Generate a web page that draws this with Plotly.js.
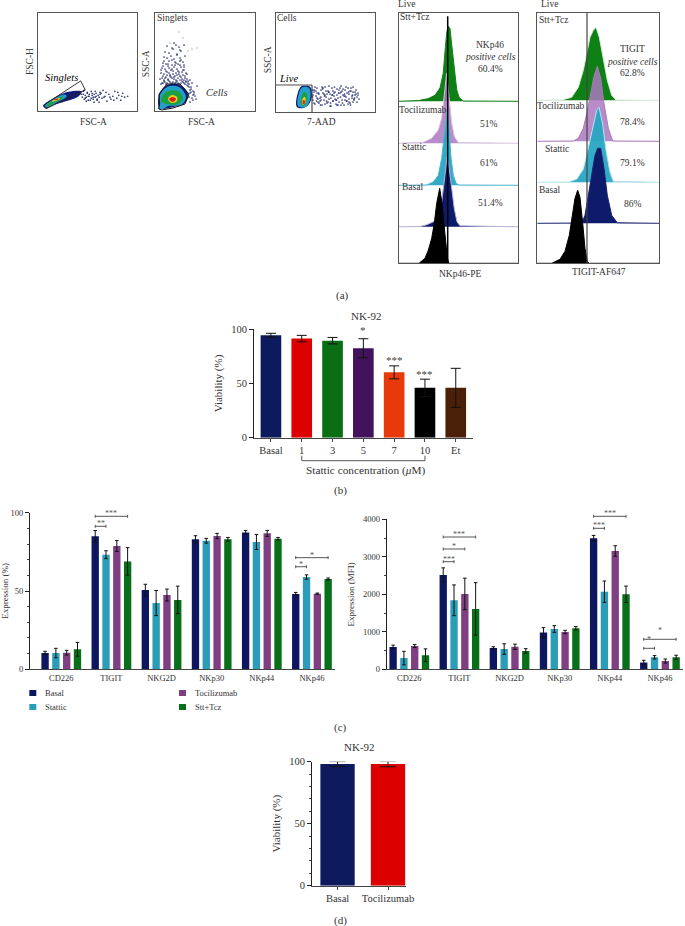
<!DOCTYPE html>
<html><head><meta charset="utf-8">
<script src="https://cdn.plot.ly/plotly-3.0.1.min.js"></script>
<style>html,body{margin:0;padding:0;background:#fff}</style></head>
<body><div id="chart" style="width:685px;height:926px"></div>
<script>
// ---- data: bar panels ----
const viabilityCats=['Basal','1','3','5','7','10','Et'];
const viabilityVals=[94.5,91.4,89.5,82.5,60.3,46,46];
const viabilityErr=[1.8,3,3,8.8,6,8,18];
const viabilityColors=['#0d1a5e','#dc0000','#0a6f14','#43125c','#e8390a','#000000','#4a2008'];
const viabilityStars=[['*',3,99],['***',4,72],['***',5,59]];
const tczCats=['Basal','Tocilizumab'];
const tczVals=[98.1,98.1];
const tczErr=[2,2.2];
const tczColors=['#0d1a5e','#dc0000'];
const markers=['CD226','TIGIT','NKG2D','NKp30','NKp44','NKp46'];
const groups=['Basal','Stattic','Tocilizumab','Stt+Tcz'];
const groupColors=['#0d1760','#2b9db8','#7f3f82','#087018'];
const pctVals=[[10.4,84.9,50.6,83,87.4,48.1],[10.4,73.2,42.3,82.1,81.3,58.9],[10.6,78.7,47.4,85.1,86.8,48.3],[12.8,68.9,44.3,83,83.4,57.7]];
const pctErr=[[1.1,3.7,3.7,2.3,1.3,1],[3,2.5,8,1.5,4.8,1.4],[1.5,3.5,3.8,1.7,1.9,0.4],[4.4,8.8,8.8,1.2,0.8,0.6]];
const mfiVals=[[595,2515,570,980,3495,180],[300,1840,540,1075,2070,320],[620,2010,600,995,3155,220],[375,1610,490,1095,2000,320]];
const mfiErr=[[50,190,30,130,75,60],[180,410,140,90,285,45],[40,420,70,45,140,55],[170,700,60,45,220,55]];
// brackets: [group index, first bar, last bar, height, stars]
const pctBrackets=[[1,0,1,91.3,'**'],[1,0,3,97.7,'***'],[5,0,1,65.5,'*'],[5,0,3,71.3,'*']];
const mfiBrackets=[[1,0,1,2870,'***'],[1,0,2,3208,'*'],[1,0,3,3528,'***'],[4,0,1,3760,'***'],[4,0,3,4080,'***'],[5,0,1,560,'*'],[5,0,3,800,'*']];
const stattiBracket=[1,5];
// ---- data: flow dot plots ----
const gate1X=[5.4,43.4,48,8.1,5.4], gate1Y=[5.8,30.6,21.4,2.3,5.8];
const d1Blobs=[
 ['#101c78',[5.4,18.9,30.8,44.3,40.9,27.4,15.5,8.1],[5.2,14.7,19.5,19.8,14.7,9.6,6.2,2.8]],
 ['#22a0c8',[7.1,17.2,27.4,29.1,18.9,8.8],[5.2,13,16.7,14.7,8.6,3.8]],
 ['#1fa040',[8.8,17.2,24,25,18.3,10.5],[5.5,12,14.7,13,9.3,4.5]],
 ['#e8d020',[13.9,19.6,22.3,18.9],[9.6,13,13,10.3]],
 ['#e02010',[16.2,20.6,19.6],[11.3,12.7,11]]];
const d1DotsX=[46,48,50,52,53,55,56,58,60,61,62,64,65,66,68,70,72,74,76,78,80,82,84,86,88,91,47,49,51,54,57,59,63,67,69,73,77,81,85,44,45,46,47,48,49,50,51,52,54,55,56,57,58,59,60,62,63];
const d1DotsY=[17,13,19,15,11,18,14,20,12,16,9,18,13,21,15,10,17,12,15,20,13,16,11,18,14,15,21,10,15,20,9,15,17,14,19,14,11,19,15,17,14,20,12,16,14,18,11,17,13,16,12,17,14,18,11,14,19];
const gate2X=[4,4,12,25,34,30,18,7,4], gate2Y=[2,17,27,27,17,7,3,1,2];
const d2Blobs=[
 ['#101c78',[4.3,4.3,12,25,33,30,18,8],[3,17,26,26,17,8,4,2]],
 ['#22a0c8',[3,5,5,12,24,31,26,13,8],[2,6,16,24,24,14,6,5,2]],
 ['#1fa040',[6,11,23,28,23,11],[10,19,20,13,7,7]],
 ['#e8d020',[13,17,22,22,17],[12,16,14,10,8]],
 ['#e02010',[14,18,21,18],[12,14,12,9]]];
const d2DotsX=[6,8,10,12,14,16,18,20,22,24,26,28,30,32,34,5,7,9,11,13,15,17,19,21,23,25,27,29,31,6,9,12,15,18,21,24,27,30,33,7,10,13,16,19,22,25,28,31,8,11,14,17,20,23,26,29,9,12,16,19,22,25,28,10,14,18,22,26,12,17,21,25,30,19,24,29,36,38,40,41,37,35,34,36,39,42,38,35,
 7,9,11,13,15,17,19,21,23,25,27,29,31,33,8,10,12,14,16,18,20,22,24,26,28,30,32,6,8,11,14,17,20,23,26,29,32,9,13,17,21,25,29,34,36,38,35,37,39,33,35];
const d2DotsY=[27,28,29,28,30,27,29,28,30,27,28,29,27,26,24,32,33,31,34,32,35,33,34,31,33,35,32,31,29,38,37,39,36,40,38,37,39,35,30,43,42,45,41,44,42,46,41,38,48,47,50,46,49,47,51,44,54,53,55,52,57,50,49,59,58,62,56,60,65,63,66,61,55,68,64,66,24,20,15,12,28,18,14,22,17,25,11,9,
 28,30,27,31,29,28,32,29,28,31,30,28,30,25,35,33,36,38,34,37,35,36,39,34,36,33,32,41,45,40,43,42,46,40,44,41,37,50,47,51,48,53,46,27,19,16,21,13,19,28,31];
const d2FaintX=[24,28,15,42,37,33], d2FaintY=[79,73,68,63,62,60];
const gate3X=[0,36,36], gate3Y=[27,27,0];
const d3Blobs=[
 ['#101c78',[20.7,21.7,25.7,34,35.7,32.3,25.7],[5.3,18.7,26,25.3,15.3,7,3.7]],
 ['#22a0c8',[22,22.5,26,33,34.5,30],[6,17,24.5,24,15,5]],
 ['#1fa040',[25,25.5,28,31,30,27],[8,15,20,18,9,6]],
 ['#e8d020',[26,27,29,29.5,27],[9,14,15,10,7]],
 ['#e02010',[26.5,27.5,29,28],[9,12,11,7.5]]];
const d3DotsX=[37,38,39,40,41,42,43,44,45,46,47,48,49,50,51,52,53,54,55,56,57,58,59,60,61,62,63,64,65,66,67,68,69,70,71,72,73,74,75,76,77,78,79,80,81,82,83,37,39,41,43,45,47,49,51,53,55,57,59,61,63,65,67,69,71,73,75,77,79,81,40,44,48,52,56,60,64,68,72,76,80,
 36.5,38.5,40.5,42.5,44.5,46.5,48.5,50.5,52.5,54.5,56.5,58.5,60.5,62.5,64.5,66.5,68.5,70.5,72.5,74.5,76.5,78.5,38,42,46,50,54,58,62,66,70,74,78,82,37,41,45,49,53,57,61,65,69,73,77];
const d3DotsY=[12,20,8,16,24,10,18,14,22,7,19,12,25,15,9,21,13,18,6,24,11,16,20,8,23,14,10,19,26,12,17,7,22,15,11,24,18,9,21,14,25,12,17,22,15,19,13,17,25,14,9,15,24,8,18,26,14,21,13,17,22,7,23,12,19,13,24,10,20,10,21,11,18,10,17,12,24,16,8,16,18,
 15,22,11,19,7,23,16,11,20,9,17,25,12,19,15,9,18,11,20,7,17,14,9,13,25,21,6,19,7,21,25,21,13,17,22,19,12,17,20,11,7,20,16,10,20];
// ---- data: flow histograms ----
const histA=[
 ['#0f8015','#0f8015',162,[19.3,29.3,36,41,44.3,46,47.7,49.3,51,52.7,55.3,57.7,60,64.3],[0.7,2.7,6,13.3,28.3,50,68.3,75,72.7,56.7,30,11.7,4,0.3]],
 ['rgba(170,120,190,0.85)','#d8c2e0',120,[24.3,32.7,39.3,42.7,45.3,47.7,50,52.7,55.3,59.3],[1,5,13.3,25,46.7,70,46.7,20,6.7,0.7]],
 ['rgba(40,165,195,0.95)','#4cb4cc',78,[27.7,34.3,39.3,42.7,45,46.7,48,50,52,54.3,57,60],[0.3,3.3,10,27,50,68,75,55,28,10,2,0.3]],
 ['#0e1a6a','#b5b5d8',36.5,[21,27.7,34.3,39.3,42.7,46,48,50,52.7,55.3,58,61],[0.3,2,5,10,25,52,70,60,36,18,5,1]],
 ['#000000','#000000',0,[20,26,29.3,32.7,35.3,37.7,39.3,40.7,42.7,44.7,46.7,48.3,49.7],[0,5,13,25,40,60,70,75,62,42,20,6,0]]];
const histB=[
 ['#0f8015','#d4ecd4',163,[24.4,34.4,41,46,50,52.7,56,58.7,62,66,70,74.4,78.7],[0.3,3,13,30,50,63,70,73,63,42,20,5,0.3]],
 ['rgba(170,120,190,0.85)','#a878b8',122,[36,41,46,50,53.4,56.7,60,63.4,66.7,71,75.4],[0.3,3,13,30,48,65,75,63,38,13,0.3]],
 ['rgba(40,165,195,0.95)','#b8e4ee',81,[31,39.4,46,50,52.7,56,59.4,61.7,65.4,68.7,72.7,76],[0.3,3,13,30,42,58,72,75,58,32,10,1]],
 ['#0e1a6a','#1a2470',40,[44.4,47.7,51,54.4,57.7,60.4,63.4,66.7,70,74.4,80],[0.3,8,28,50,68,75,75,55,28,8,0.5]],
 ['#000000','#000000',0,[14.4,22.7,27.7,32,35.4,37.7,40.4,42.7,45.4,47.7,50,52],[0,4,12,28,50,65,73,66,40,15,2,0]]];
const histACutoff=48.7, histBCutoff=49.7;
// ---- text placed on the page ----
const SERIF='"Liberation Serif",serif', INK='#333333';
const labels=[
 ['FSC-H',30,62,{a:-90}],['FSC-A',93,122],['<i>Singlets</i>',61.7,78,{c:'#000',s:10.5}],
 ['SSC-A',146.3,64,{a:-90}],['Singlets',172.7,18],['<i>Cells</i>',217.3,93,{s:10.5}],['FSC-A',201,122],
 ['SSC-A',268.3,60,{a:-90}],['Cells',286.7,18],['<i>Live</i>',288.3,78.5,{c:'#000',s:10.5}],['7-AAD',321.7,122],
 ['Live',406.7,4],['Stt+Tcz',415,17.5],['NKp46',490,45],['<i>positive cells</i>',490,57],['60.4%',490,68.5],
 ['Tocilizumab',422.7,110],['51%',489,124],['Stattic',413.7,147],['61%',489.3,163],['Basal',412.7,187.5],['51.4%',490,203],['NKp46-PE',460,274],
 ['Live',549,4],['Stt+Tcz',554,20],['TIGIT',632.3,49],['<i>positive cells</i>',632.3,62],['62.8%',632.3,73],
 ['Tocilizumab',560.7,106],['78.4%',632,122],['Stattic',557.3,149],['79.1%',632,163],['Basal',549.7,190],['86%',633.3,204],['TIGIT-AF647',599,272],
 ['(a)',342,295,{s:11}],['(b)',340.7,490.7,{s:11}],['(c)',340.7,727,{s:11}],['(d)',340.7,920.7,{s:11}],
 ['NK-92',366.7,315.7,{s:11}],['NK-92',359,746.7,{s:11}],
 ['Stattic concentration (<i>μ</i>M)',366,470,{s:11.3}]];
const legendRows=[[0,29.3,690,43.3],[1,29.3,704,43.3],[2,179,690,193],[3,179,704,193]];

const W=685,H=926;
const dx=(a,b)=>[a/W,b/W], dy=(top,bot)=>[1-bot/H,1-top/H];
const layout={width:W,height:H,autosize:false,showlegend:false,margin:{l:0,r:0,t:0,b:0,pad:0},
  paper_bgcolor:'#fff',plot_bgcolor:'#fff',font:{family:SERIF,color:INK,size:10},
  barmode:'group',bargap:0.138,bargroupgap:0.32,annotations:[],shapes:[]};
const traces=[];
function boxAxes(n,xd,yd,xr,yr,col){
  const k=n===1?'':n;
  const base={showgrid:false,zeroline:false,showticklabels:false,ticks:'',showline:true,mirror:true,linecolor:col||'#555',linewidth:1.3,fixedrange:true};
  layout['xaxis'+k]=Object.assign({},base,{domain:xd,range:xr,anchor:'y'+k});
  layout['yaxis'+k]=Object.assign({},base,{domain:yd,range:yr,anchor:'x'+k});
  return {xaxis:'x'+k,yaxis:'y'+k};
}
function poly(ax,x,y,color){traces.push(Object.assign({type:'scatter',mode:'lines',x:x.concat([x[0]]),y:y.concat([y[0]]),fill:'toself',fillcolor:color,line:{width:0,color:color,shape:'spline',smoothing:1},hoverinfo:'skip'},ax));}
function dots(ax,x,y,size,op){traces.push(Object.assign({type:'scatter',mode:'markers',x:x,y:y,marker:{size:size,color:'#141c68',opacity:op},hoverinfo:'skip'},ax));}
function line(ax,x,y,color,w){traces.push(Object.assign({type:'scatter',mode:'lines',x:x,y:y,line:{color:color,width:w},cliponaxis:false,hoverinfo:'skip'},ax));}

// dot plots
const a1=boxAxes(1,dx(38,136.5),dy(13,111),[0,100],[0,99.5]);
dots(a1,d1DotsX,d1DotsY,1.7,0.85);
d1Blobs.forEach(b=>poly(a1,b[1],b[2],b[0]));
line(a1,gate1X,gate1Y,'#222',0.9);
const a2=boxAxes(2,dx(155,254.5),dy(13,111),[0,99.5],[0,98]);
dots(a2,d2DotsX,d2DotsY,1.7,0.9);
dots(a2,d2FaintX,d2FaintY,2.5,0.15);
d2Blobs.forEach(b=>poly(a2,b[1],b[2],b[0]));
const a3=boxAxes(3,dx(276,375),dy(13,112),[0,99],[0,99]);
dots(a3,d3DotsX,d3DotsY,1.7,0.9);
d3Blobs.forEach(b=>poly(a3,b[1],b[2],b[0]));
line(a3,[gate3X[0],gate3X[1]],[gate3Y[0],gate3Y[1]],'#888',1.3);
line(a3,[gate3X[1],gate3X[2]],[gate3Y[1],gate3Y[2]],'#222',1);

// histograms
function hist(ax,h,width){
  h.forEach(r=>{
    const x=[0].concat(r[3],[width]), y=[0].concat(r[4],[0]).map(v=>v+r[2]);
    traces.push(Object.assign({type:'scatter',mode:'lines',x:x,y:y,fill:'toself',fillcolor:r[0],line:{color:r[1],width:1},hoverinfo:'skip'},ax));
  });
}
const a4=boxAxes(4,dx(399,518.3),dy(13,263.3),[0,119.3],[0,250.3]);
hist(a4,histA,119.3);
line(a4,[histACutoff,histACutoff],[0,247],'#000',1.5);
const a5=boxAxes(5,dx(537.3,659.3),dy(13,263.3),[0,122],[0,250.3]);
hist(a5,histB,122);
line(a5,[histBCutoff,histBCutoff],[0,250.3],'#444',1.2);

// axes of the bar charts
const tickFont=s=>({family:SERIF,size:s,color:INK});
function barAxes(n,xd,yd,xr,yr,tickvals,ticktext,yvals,xticks,size,title,standoff,minor){
  layout['xaxis'+n]={domain:xd,range:xr,anchor:'y'+n,tickmode:'array',tickvals:tickvals,ticktext:ticktext,showgrid:false,zeroline:false,showline:true,linecolor:'#444',linewidth:1.2,ticks:xticks?'outside':'',ticklen:3,tickcolor:'#444',tickfont:tickFont(size),fixedrange:true};
  layout['yaxis'+n]={domain:yd,range:yr,anchor:'x'+n,tickmode:'array',tickvals:yvals,showgrid:false,zeroline:false,showline:true,linecolor:'#222',linewidth:1.2,ticks:'outside',ticklen:4,tickcolor:'#222',tickfont:tickFont(size),
    title:{text:title,font:tickFont(size+0.5),standoff:standoff},automargin:false,fixedrange:true};
  if(minor) layout['yaxis'+n].minor={tickmode:'linear',dtick:minor,ticks:'outside',ticklen:2,tickcolor:'#444',showgrid:false};
  return {xaxis:'x'+n,yaxis:'y'+n};
}
// a bracket in axis x units, placed with its y on the page so it may sit outside the plot area
function bracketShape(n,x0,x1,yTop,yBot,color){
  const yt=1-yTop/H, yb=1-yBot/H;
  layout.shapes.push({type:'path',xref:'x'+n,yref:'paper',path:`M ${x0} ${yb} L ${x0} ${yt} L ${x1} ${yt} L ${x1} ${yb}`,line:{color:color,width:0.9},layer:'above'});
}
// (b)
const a6=barAxes(6,dx(254.3,472.7),dy(329.3,437.7),[-0.54,6.55],[0,100],viabilityCats.map((c,i)=>i),viabilityCats,[0,50,100],true,10.5,'Viability (%)',6,0);
traces.push(Object.assign({type:'bar',x:viabilityCats.map((c,i)=>i),y:viabilityVals,width:0.67,marker:{color:viabilityColors},
  error_y:{type:'data',array:viabilityErr,visible:true,color:'#111',thickness:1,width:5},hoverinfo:'skip'},a6));
bracketShape(6,stattiBracket[0],stattiBracket[1],460.7,455.7,'#444');
viabilityStars.forEach(s=>layout.annotations.push({text:s[0],xref:'x6',yref:'y6',x:s[1],y:s[2],showarrow:false,font:{family:SERIF,size:11,color:'#444'}}));

// (c)
function grouped(n,ax,vals,errs,brackets,yBot,yTop,yMax,starDy,starSize){
  groups.forEach((g,j)=>{
    traces.push(Object.assign({type:'bar',name:g,x:markers.map((m,i)=>i),y:vals[j],marker:{color:groupColors[j]},
      error_y:{type:'data',array:errs[j],visible:true,color:'#111',thickness:1,width:1.8},hoverinfo:'skip'},ax));
  });
  const off=j=>(j-1.5)*0.2155;
  brackets.forEach(b=>{
    const x0=b[0]+off(b[1]),x1=b[0]+off(b[2]);
    const py=yBot-(yBot-yTop)*b[3]/yMax;
    const yt=1-(py-1.5)/H, ym=1-py/H, yb=1-(py+1.5)/H;
    layout.shapes.push({type:'path',xref:'x'+n,yref:'paper',layer:'above',line:{color:'#444',width:0.9},
      path:`M ${x0} ${yb} L ${x0} ${yt} M ${x0} ${ym} L ${x1} ${ym} M ${x1} ${yb} L ${x1} ${yt}`});
    layout.annotations.push({text:b[4],xref:'x'+n,yref:'paper',x:(x0+x1)/2,y:1-(py-starDy)/H,showarrow:false,font:{family:SERIF,size:starSize,color:'#555'}});
  });
}
const ticks6=markers.map((m,i)=>i);
const a7=barAxes(7,dx(30,335),dy(512.7,669.3),[-0.624,5.46],[0,100],ticks6,markers,[0,50,100],false,8.5,'Expression (%)',12,10);
grouped(7,a7,pctVals,pctErr,pctBrackets,669.3,512.7,100,2.5,8);
const a8=barAxes(8,dx(386.7,683),dy(519.3,669.3),[-0.451,5.46],[0,4000],ticks6,markers,[0,1000,2000,3000,4000],false,8.5,'Expression (MFI)',6,500);
grouped(8,a8,mfiVals,mfiErr,mfiBrackets,669.3,519.3,4000,2.5,8);

// (d)
const a9=barAxes(9,dx(312.3,405.7),dy(761.7,885.7),[-0.5,1.35],[0,100],tczCats.map((c,i)=>i),tczCats,[0,50,100],true,10.5,'Viability (%)',6,10);
traces.push(Object.assign({type:'bar',x:tczCats.map((c,i)=>i),y:tczVals,width:0.68,marker:{color:tczColors},
  error_y:{type:'data',array:tczErr,visible:true,color:'#111',thickness:1,width:8},hoverinfo:'skip'},a9));

// page text
labels.forEach(l=>{
  const o=l[3]||{};
  layout.annotations.push({text:l[0],xref:'paper',yref:'paper',x:l[1]/W,y:1-l[2]/H,xanchor:'center',yanchor:'middle',showarrow:false,
    textangle:o.a||0,font:{family:SERIF,size:o.s||9.5,color:o.c||INK}});
});
// cells gate of the second dot plot
layout.shapes.push({type:'path',xref:'x2',yref:'y2',path:'M '+gate2X.map((v,i)=>v+' '+gate2Y[i]).join(' L '),line:{color:'#111',width:1},layer:'above'});
// key of panel (c)
legendRows.forEach(r=>{
  layout.shapes.push({type:'rect',xref:'paper',yref:'paper',x0:r[1]/W,x1:(r[1]+7)/W,y0:1-(r[2]+6)/H,y1:1-r[2]/H,fillcolor:groupColors[r[0]],line:{width:0}});
  layout.annotations.push({text:groups[r[0]],xref:'paper',yref:'paper',x:r[3]/W,y:1-(r[2]+3)/H,xanchor:'left',yanchor:'middle',showarrow:false,font:{family:SERIF,size:8.5,color:INK}});
});
Plotly.newPlot('chart',traces,layout,{displayModeBar:false});
</script></body></html>
